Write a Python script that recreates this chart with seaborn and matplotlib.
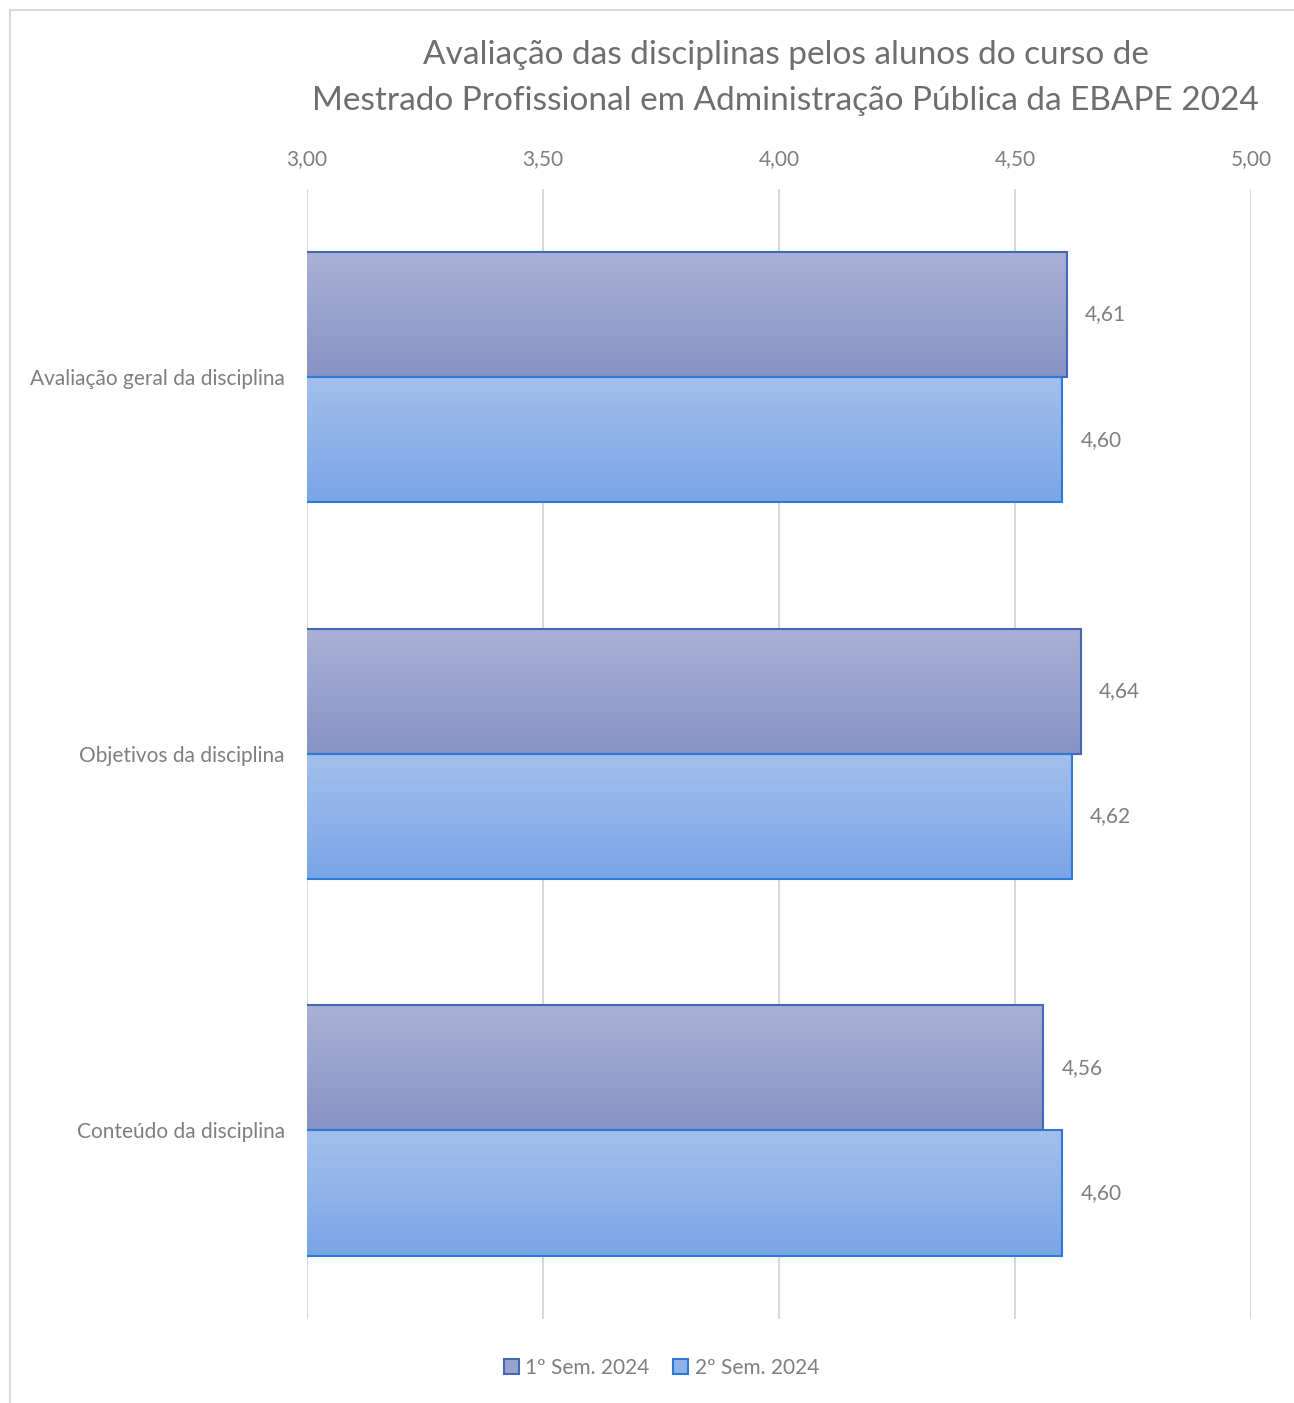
import numpy as np
import pandas as pd
import matplotlib
matplotlib.use("Agg")
import matplotlib.pyplot as plt
import matplotlib.ticker as ticker
from matplotlib.patches import Patch, Rectangle
from matplotlib.colors import LinearSegmentedColormap
import seaborn as sns

# Dados do gráfico
categorias = ["Avaliação geral da disciplina", "Objetivos da disciplina", "Conteúdo da disciplina"]
semestres = ["1º Sem. 2024", "2º Sem. 2024"]
sem1 = [4.61, 4.64, 4.56]
sem2 = [4.60, 4.62, 4.60]
ticks = [3.00, 3.50, 4.00, 4.50, 5.00]

df = pd.DataFrame({
    "categoria": categorias * 2,
    "semestre": [semestres[0]] * 3 + [semestres[1]] * 3,
    "nota": sem1 + sem2,
})

sns.set_style("white")
plt.rcParams["font.family"] = ["Lato", "DejaVu Sans"]
cinza = "#7F7F7F"

# gradientes (topo -> base) e bordas de cada série
gradientes = {
    semestres[0]: ("#AAB1D5", "#8693C6"),
    semestres[1]: ("#A4BFEC", "#7AA5E6"),
}
bordas = {semestres[0]: "#4468B4", semestres[1]: "#2C7BD6"}

fig = plt.figure(figsize=(12.94, 14.03), dpi=100)
ax = fig.add_axes([0.2373, 0.0600, 0.7295, 0.8054])

sns.barplot(data=df, x="nota", y="categoria", hue="semestre", hue_order=semestres,
            orient="h", width=0.665, palette=[g[1] for g in gradientes.values()],
            legend=False, ax=ax)

# trocar preenchimento chapado por gradiente vertical
for cont, sem in zip(ax.containers, semestres):
    cmap = LinearSegmentedColormap.from_list(sem, list(gradientes[sem]))
    for bar in cont:
        x0, y0 = bar.get_x(), bar.get_y()
        w, h = bar.get_width(), bar.get_height()
        grad = np.linspace(0, 1, 256).reshape(-1, 1)
        ax.imshow(grad, cmap=cmap, aspect="auto", extent=(3, x0 + w, y0 + h, y0),
                  origin="upper", zorder=2, interpolation="bicubic")
        bar.set_facecolor("none")
        bar.set_edgecolor(bordas[sem])
        bar.set_linewidth(1.5)
        bar.set_zorder(3)
    ax.bar_label(cont, labels=[f"{v:.2f}".replace(".", ",") for v in cont.datavalues],
                 padding=13, fontsize=15, color=cinza)

ax.set_xlim(3, 5)
ax.set_ylim(2.5, -0.5)
ax.set_xticks(ticks)
ax.xaxis.set_major_formatter(ticker.FuncFormatter(lambda v, _: f"{v:.2f}".replace(".", ",")))
ax.xaxis.tick_top()
ax.tick_params(axis="both", length=0, colors=cinza, labelsize=15)
ax.tick_params(axis="x", pad=14)
ax.tick_params(axis="y", pad=16)
ax.grid(axis="x", color="#D9D9D9", linewidth=1.5)
ax.set_axisbelow(True)
ax.set_xlabel("")
ax.set_ylabel("")
for s in ax.spines.values():
    s.set_visible(False)

fig.text(0.607, 0.9715, "Avaliação das disciplinas pelos alunos do curso de\n"
         "Mestrado Profissional em Administração Pública da EBAPE 2024",
         ha="center", va="top", fontsize=24, color="#6E6E6E", linespacing=1.65)

handles = [Patch(facecolor=np.mean([matplotlib.colors.to_rgb(c) for c in gradientes[s]], axis=0),
                 edgecolor=bordas[s], linewidth=1.5, label=s) for s in semestres]
fig.legend(handles=handles, loc="center", bbox_to_anchor=(0.511, 0.025), ncol=2,
           frameon=False, fontsize=15, labelcolor=cinza, handlelength=0.75,
           handleheight=0.75, handletextpad=0.3, columnspacing=1.1)

# moldura do gráfico
fig.patches.append(Rectangle((0.008, -0.01), 1.1, 1.003, transform=fig.transFigure,
                             fill=False, edgecolor="#D9D9D9", linewidth=1.5))

fig.savefig("out.png", dpi=100)
